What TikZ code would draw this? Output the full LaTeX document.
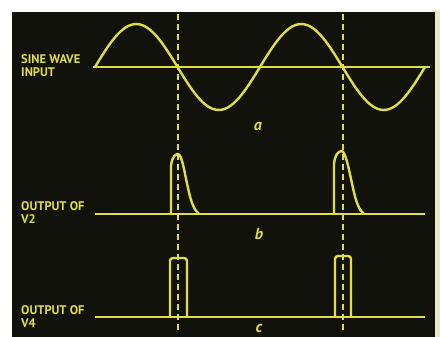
\documentclass[tikz,border=0pt]{standalone}
\usepackage{fontspec}
\setmainfont{PT Sans}
\definecolor{scope}{RGB}{224,222,68}
\definecolor{panel}{RGB}{18,18,12}
\definecolor{edge}{RGB}{236,234,196}
\begin{document}
\begin{tikzpicture}[x=1pt,y=-1pt,
  trace/.style={draw=scope,line width=2.4pt,line cap=round,line join=round},
  baseln/.style={draw=scope,line width=1.6pt},
  marker/.style={draw=scope,line width=1.6pt,dash pattern=on 6pt off 4pt},
  lbl/.style={text=scope,font=\bfseries\fontsize{12.5}{13}\selectfont,align=left,anchor=north west,inner sep=0pt},
  letter/.style={text=scope,font=\itshape\bfseries\fontsize{16}{16}\selectfont,inner sep=0pt}]
\useasboundingbox (0,0) rectangle (440,337);
\fill[white] (0,0) rectangle (440,337);
\fill[edge] (433,10) rectangle (440,337);
\fill[panel] (12,12) rectangle (435,337);
% dashed markers
\coordinate (m1t) at (178,14);
\coordinate (m1b) at (178,330);
\coordinate (m2t) at (343,14);
\coordinate (m2b) at (343,330);
\draw[marker] (m1t) -- (m1b);
\draw[marker] (m2t) -- (m2b);
% trace a
\coordinate (a0) at (93,67);
\coordinate (a1) at (430,67);
\draw[baseln] (a0) -- (a1);
\draw[trace] plot[domain=95:425,samples=120] (\x,{67-43*sin((\x-95)/165*360)});
% trace b
\coordinate (b0) at (95,214);
\coordinate (b1) at (425,214);
\draw[baseln] (b0) -- (b1);
\draw[trace] (171,214) -- (171,166) .. controls (172,156) and (176,154) .. (178,154)
  .. controls (182,155) and (184,170) .. (188,188) .. controls (191,202) and (194,210) .. (199,214);
\draw[trace] (334,214) -- (334,164) .. controls (335,154) and (339,151) .. (342,151)
  .. controls (346,153) and (349,170) .. (353,188) .. controls (356,202) and (359,210) .. (364,214);
% trace c
\coordinate (c0) at (95,317);
\coordinate (c1) at (425,317);
\draw[baseln] (c0) -- (c1);
\draw[trace,rounded corners=3pt] (170,317) -- (170,258) -- (187,258) -- (187,317);
\draw[trace,rounded corners=3pt] (335,317) -- (335,256) -- (351,256) -- (351,317);
% labels
\node[lbl] (la) at (21,54) {SINE WAVE\\INPUT};
\node[lbl] (lb) at (21,201) {OUTPUT OF\\V2};
\node[lbl] (lc) at (21,305) {OUTPUT OF\\V4};
\node[letter] (ta) at (258,127) {a};
\node[letter] (tb) at (259,234) {b};
\node[letter] (tc) at (259,328) {c};
\end{tikzpicture}
\end{document}
